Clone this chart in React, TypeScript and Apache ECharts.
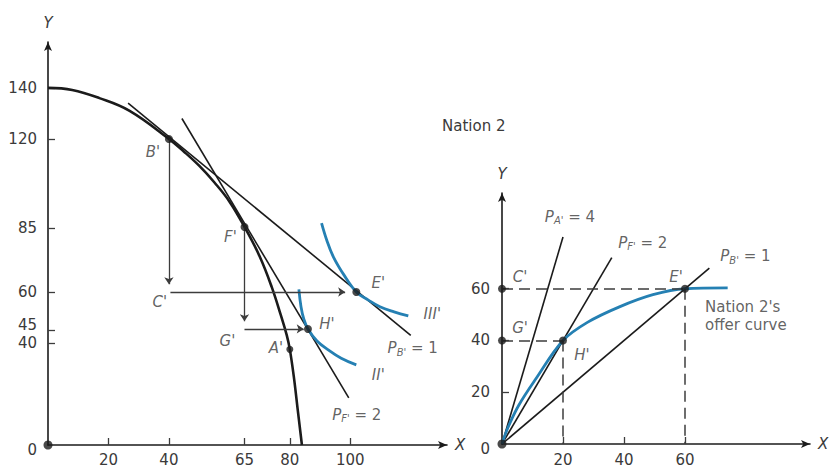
import { useEffect, useRef } from "react";
import * as echarts from "echarts";

const FONT = "'DejaVu Sans', 'Liberation Sans', Arial, sans-serif";
const INK = "#1b1b1b";
const GREY = "#3c3c3c";
const TEXT = "#3a3a3a";
const BLUE = "#2580b3";

// ----- Nation 2: production and consumption (left panel) -----
const ppfCurve = [
  [0, 140], [8, 139.2], [17, 136], [27, 131], [40, 120], [45, 115], [50, 109.5], [55, 103],
  [60, 95.5], [65, 85.5], [70, 74], [74, 62], [77, 51], [79, 43], [80, 37.5], [81.3, 27],
  [82.6, 14], [84, 0],
];
const priceLineB = [[26.5, 134], [120, 43]];
const priceLineF = [[44.3, 128], [99.5, 18.5]];
const indifferenceIII = [
  [90.5, 87], [92.2, 80.4], [94.4, 73.8], [98, 66.5], [102, 60], [106, 56.8],
  [109.8, 54.2], [114.5, 52.2], [119.2, 50.6],
];
const indifferenceII = [
  [83, 61], [83.7, 54.2], [84.6, 49.5], [86, 45.5], [89, 40.8], [92.7, 37.3], [97, 34], [102, 31.4],
];
const pointB = [40, 120];
const pointF = [65, 85.5];
const pointE = [102, 60];
const pointH = [86, 45.5];
const pointA = [80, 37.5];
const pointC = [40, 60];
const pointG = [65, 45.5];
const origin = [0, 0];
// trade triangles B'C'E' and F'G'H'
const tradeArrows = [
  [[40, 120], [40, 63]],
  [[40.5, 60], [98.3, 60]],
  [[65, 85.5], [65, 48.5]],
  [[65, 45.5], [84.6, 45.5]],
];
const leftXTicks = [20, 40, 65, 80, 100];
const leftYTicks = [40, 45, 60, 85, 120, 140];
const leftYLabels = [0, 40, 45, 60, 85, 120, 140];

// ----- Nation 2's offer curve (right panel) -----
const rayA = [[0, 0], [20, 80]];
const rayF = [[0, 0], [36, 72]];
const rayB = [[0, 0], [68, 68]];
const offerCurve = [
  [0, 0], [2, 6.5], [5.5, 15], [11, 25], [20, 40], [28, 47], [38.5, 53], [49.5, 57.7], [60, 60], [74, 60.3],
];
const offerC = [0, 60];
const offerG = [0, 40];
const offerH = [20, 40];
const offerE = [60, 60];
const guideLines = [
  [[0, 60], [60, 60]],
  [[0, 40], [20, 40]],
  [[20, 40], [20, 0]],
  [[60, 60], [60, 0]],
];
const rightTicks = [20, 40, 60];
const rightYLabels = [0, 20, 40, 60];

const letter = (text: string, offset: number[]) => ({
  show: true,
  formatter: text,
  position: "inside",
  offset,
  fontFamily: FONT,
  fontSize: 15,
  fontStyle: "italic",
  color: TEXT,
  textBorderWidth: 0,
});

const priceRich = {
  p: { fontFamily: FONT, fontSize: 15, fontStyle: "italic", color: TEXT, lineHeight: 18 },
  s: { fontFamily: FONT, fontSize: 10, fontStyle: "italic", color: TEXT, lineHeight: 8, verticalAlign: "bottom" },
  n: { fontFamily: FONT, fontSize: 15, color: TEXT, lineHeight: 18 },
};
const price = (sub: string, value: number, offset: number[]) => ({
  show: true,
  formatter: `{p|P}{s|${sub}}{n| = ${value}}`,
  rich: priceRich,
  position: "inside",
  offset,
  textBorderWidth: 0,
});

// tick-label nudges: "0" sits a little below the axis, "45" a little above its tick
const tickRich = {
  low: { fontFamily: FONT, fontSize: 15, color: TEXT, padding: [10, 0, 0, 0] },
  high: { fontFamily: FONT, fontSize: 15, color: TEXT, padding: [0, 0, 10, 0] },
};
const tickFormatter = (v: number) => (v === 0 ? `{low|${v}}` : v === 45 ? `{high|${v}}` : `${v}`);

const axisBase = (grid: number, max: number, ticks: number[], labels: number[], name: string, isY: boolean, labelMargin: number) => ({
  type: "value",
  gridIndex: grid,
  min: 0,
  max,
  name,
  nameLocation: "end",
  nameGap: isY ? 12 : 8,
  nameTextStyle: {
    fontFamily: FONT,
    fontSize: 15,
    fontStyle: "italic",
    color: TEXT,
    ...(isY ? { align: "center", verticalAlign: "bottom" } : { align: "left", verticalAlign: "middle" }),
  },
  axisLine: {
    show: true,
    onZero: false,
    symbol: ["none", "arrow"],
    symbolSize: [6, 9],
    lineStyle: { color: INK, width: 1.6 },
  },
  axisTick: {
    show: true,
    inside: true,
    length: 7,
    customValues: ticks,
    lineStyle: { color: GREY, width: 1.3 },
  },
  axisLabel: {
    show: true,
    customValues: labels,
    margin: labelMargin,
    fontFamily: FONT,
    fontSize: 15,
    color: TEXT,
    formatter: tickFormatter,
    rich: tickRich,
  },
  splitLine: { show: false },
});

const line = (grid: number, data: number[][], color: string, width: number, smooth: number | boolean = false) => ({
  type: "line",
  xAxisIndex: grid,
  yAxisIndex: grid,
  data,
  smooth,
  symbol: "none",
  showSymbol: false,
  silent: true,
  lineStyle: { color, width },
  z: 2,
});

const labelOnly = (grid: number, items: { value: number[]; label: object }[]) => ({
  type: "scatter",
  xAxisIndex: grid,
  yAxisIndex: grid,
  symbolSize: 0.1,
  itemStyle: { color: "transparent" },
  silent: true,
  data: items,
  z: 6,
});

const dots = (grid: number, items: { value: number[]; label?: object; symbolSize?: number }[]) => ({
  type: "scatter",
  xAxisIndex: grid,
  yAxisIndex: grid,
  symbolSize: 8,
  itemStyle: { color: INK },
  silent: true,
  data: items,
  z: 5,
});

export default function App() {
  const ref = useRef<HTMLDivElement>(null);

  useEffect(() => {
    if (!ref.current) return;
    const chart = echarts.init(ref.current, undefined, { renderer: "svg" });

    chart.setOption({
      animation: false,
      backgroundColor: "#ffffff",
      title: {
        text: "Nation 2",
        left: 437,
        top: 113,
        textStyle: { fontFamily: FONT, fontSize: 15, fontWeight: "normal", color: TEXT },
      },
      grid: [
        { left: 48, top: 42, width: 399, height: 403 },
        { left: 502, top: 193, width: 308, height: 251 },
      ],
      xAxis: [
        axisBase(0, 132, leftXTicks, leftXTicks, "X", false, 7),
        axisBase(1, 101, rightTicks, rightTicks, "X", false, 8),
      ],
      yAxis: [
        axisBase(0, 158, leftYTicks, leftYLabels, "Y", true, 11),
        axisBase(1, 97, rightTicks, rightYLabels, "Y", true, 12),
      ],
      series: [
        // left panel
        line(0, ppfCurve, INK, 2.6, 0.4),
        line(0, priceLineB, INK, 1.6),
        line(0, priceLineF, INK, 1.6),
        line(0, indifferenceIII, BLUE, 2.8, 0.4),
        line(0, indifferenceII, BLUE, 2.8, 0.4),
        {
          type: "lines",
          coordinateSystem: "cartesian2d",
          xAxisIndex: 0,
          yAxisIndex: 0,
          symbol: ["none", "arrow"],
          symbolSize: 7,
          silent: true,
          lineStyle: { color: GREY, width: 1.3, opacity: 1 },
          data: tradeArrows.map((coords) => ({ coords })),
          z: 3,
        },
        dots(0, [
          { value: pointB, label: letter("B'", [-16, 13]) },
          { value: pointF, label: letter("F'", [-14, 10]) },
          { value: pointE, label: letter("E'", [22, -9]) },
          { value: pointH, label: letter("H'", [19, -5]) },
          { value: pointA, symbolSize: 7, label: letter("A'", [-14, -1]) },
          { value: origin, symbolSize: 9 },
        ]),
        labelOnly(0, [
          { value: pointC, label: letter("C'", [-9, 10]) },
          { value: pointG, label: letter("G'", [-17, 12]) },
          { value: indifferenceIII[indifferenceIII.length - 1], label: letter("III'", [24, -2]) },
          { value: indifferenceII[indifferenceII.length - 1], label: letter("II'", [22, 10]) },
          { value: priceLineB[1], label: price("B'", 1, [2, 13]) },
          { value: priceLineF[1], label: price("F'", 2, [8, 17]) },
        ]),
        // right panel
        line(1, rayA, INK, 1.6),
        line(1, rayF, INK, 1.6),
        line(1, rayB, INK, 1.6),
        line(1, offerCurve, BLUE, 2.8, 0.35),
        {
          type: "lines",
          coordinateSystem: "cartesian2d",
          xAxisIndex: 1,
          yAxisIndex: 1,
          silent: true,
          lineStyle: { color: GREY, width: 1.5, opacity: 1, type: [11, 6] },
          data: guideLines.map((coords) => ({ coords })),
          z: 3,
        },
        dots(1, [
          { value: origin, symbolSize: 9 },
          { value: offerC, label: letter("C'", [18, -12]) },
          { value: offerG, label: letter("G'", [18, -12.5]) },
          { value: offerH, label: letter("H'", [19, 14.5]) },
          { value: offerE, label: letter("E'", [-9, -12]) },
        ]),
        labelOnly(1, [
          { value: rayA[1], label: price("A'", 4, [7, -20]) },
          { value: rayF[1], label: price("F'", 2, [31, -15]) },
          { value: rayB[1], label: price("B'", 1, [36, -12]) },
          {
            value: offerE,
            label: {
              show: true,
              formatter: "Nation 2's\noffer curve",
              position: "inside",
              align: "left",
              offset: [20, 27],
              fontFamily: FONT,
              fontSize: 15,
              lineHeight: 18,
              color: TEXT,
              textBorderWidth: 0,
            },
          },
        ]),
      ],
    });

    return () => chart.dispose();
  }, []);

  return (
    <div
      ref={ref}
      style={{ position: "absolute", left: 0, top: 0, width: 837, height: 467, background: "#fff" }}
    />
  );
}
